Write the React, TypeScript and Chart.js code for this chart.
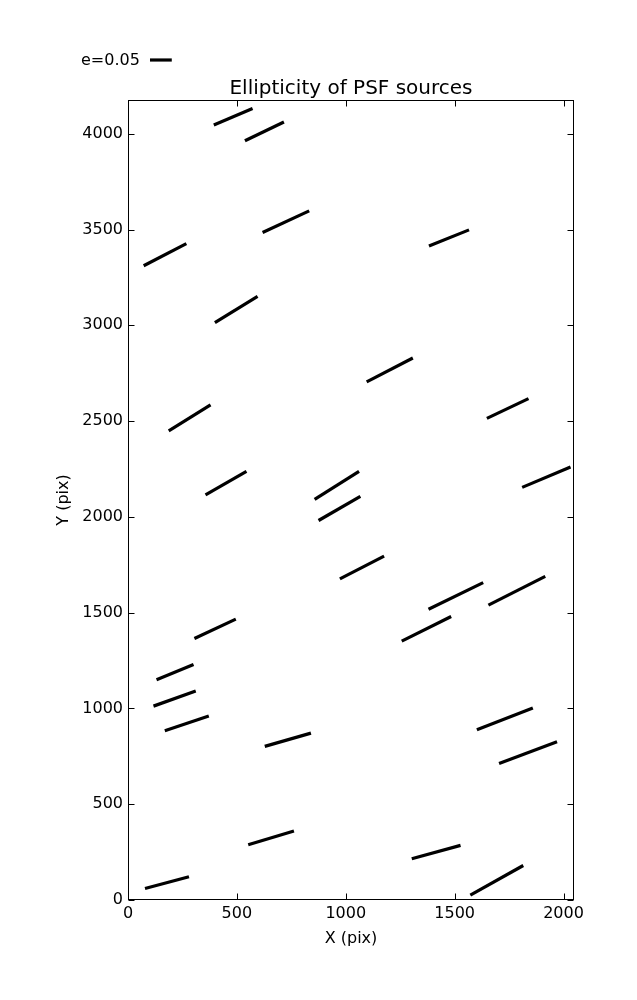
import React, { useEffect, useRef } from 'react';
import { Chart, registerables } from 'chart.js';

Chart.register(...registerables);

// Whisker start / end points (data units, pix)
const xStart = [394, 537, 618, 72, 399, 1382, 1096, 187, 356, 857, 875, 973, 305, 1648, 1810, 1380, 1655, 1257, 131, 117, 169, 628, 552, 78, 1602, 1704, 1303, 1572];
const yStart = [4046, 3963, 3484, 3311, 3014, 3414, 2705, 2449, 2115, 2091, 1981, 1676, 1365, 2514, 2154, 1518, 1539, 1351, 1150, 1012, 884, 802, 288, 60, 889, 712, 215, 25];
const xEnd = [572, 716, 832, 268, 595, 1566, 1308, 379, 544, 1061, 1067, 1176, 495, 1839, 2032, 1631, 1916, 1484, 301, 311, 371, 840, 762, 280, 1859, 1970, 1527, 1815];
const yEnd = [4132, 4061, 3597, 3426, 3151, 3498, 2829, 2584, 2237, 2237, 2107, 1795, 1466, 2617, 2260, 1657, 1689, 1480, 1229, 1091, 960, 871, 360, 121, 1002, 826, 285, 180];

const xTicks = [0, 500, 1000, 1500, 2000];
const yTicks = [0, 500, 1000, 1500, 2000, 2500, 3000, 3500, 4000];
const X_MAX = 2048;
const Y_MAX = 4176;

const legendE = 0.05;
const unitsPerE = 2000; // whisker length (pix) per unit ellipticity
const titleText = 'Ellipticity of PSF sources';
const legendLabel = 'e=0.05';

const FONT = '"DejaVu Sans", sans-serif';

const framePlugin = {
  id: 'frameAndText',
  afterDraw(chart: any) {
    const { ctx, chartArea, scales } = chart;
    const { left, right, top, bottom } = chartArea;
    const xs = scales.x;
    const ys = scales.y;
    ctx.save();
    ctx.strokeStyle = '#000';
    ctx.lineWidth = 1;
    const L = Math.round(left) + 0.5;
    const R = Math.round(right) - 0.5;
    const T = Math.round(top) + 0.5;
    const B = Math.round(bottom) - 0.5;
    ctx.strokeRect(L, T, R - L, B - T);
    const tl = 6;
    ctx.beginPath();
    xTicks.forEach((v) => {
      const px = Math.round(xs.getPixelForValue(v)) + 0.5;
      ctx.moveTo(px, B);
      ctx.lineTo(px, B - tl);
      ctx.moveTo(px, T);
      ctx.lineTo(px, T + tl);
    });
    yTicks.forEach((v) => {
      const py = Math.round(ys.getPixelForValue(v)) + 0.5;
      ctx.moveTo(L, py);
      ctx.lineTo(L + tl, py);
      ctx.moveTo(R, py);
      ctx.lineTo(R - tl, py);
    });
    ctx.stroke();

    // title
    ctx.fillStyle = '#000';
    ctx.font = `20px ${FONT}`;
    ctx.textAlign = 'center';
    ctx.textBaseline = 'middle';
    ctx.fillText(titleText, (left + right) / 2, 88.5);

    // legend
    ctx.font = `16px ${FONT}`;
    ctx.textAlign = 'left';
    ctx.fillText(legendLabel, 81, 61);
    const len = xs.getPixelForValue(legendE * unitsPerE) - xs.getPixelForValue(0);
    ctx.lineWidth = 3.2;
    ctx.lineCap = 'butt';
    ctx.beginPath();
    ctx.moveTo(150, 60);
    ctx.lineTo(150 + len, 60);
    ctx.stroke();
    ctx.restore();
  },
};

export default function App() {
  const ref = useRef<HTMLCanvasElement | null>(null);

  useEffect(() => {
    document.body.style.margin = '0';
    if (!ref.current) return;
    const datasets = xStart.map((x0, i) => ({
      label: `s${i}`,
      data: [
        { x: x0, y: yStart[i] },
        { x: xEnd[i], y: yEnd[i] },
      ],
      showLine: true,
      borderColor: '#000',
      backgroundColor: '#000',
      borderWidth: 3.2,
      borderCapStyle: 'butt' as const,
      pointRadius: 0,
      pointHoverRadius: 0,
    }));

    const chart = new Chart(ref.current, {
      type: 'scatter',
      data: { datasets },
      plugins: [framePlugin],
      options: {
        animation: false,
        responsive: true,
        maintainAspectRatio: false,
        devicePixelRatio: 1,
        layout: { padding: { left: 0, right: 63, top: 100, bottom: 0 } },
        plugins: {
          legend: { display: false },
          tooltip: { enabled: false },
          title: { display: false },
        },
        scales: {
          x: {
            type: 'linear',
            position: 'bottom',
            min: 0,
            max: X_MAX,
            afterBuildTicks: (s: any) => {
              s.ticks = xTicks.map((v) => ({ value: v }));
            },
            afterFit: (s: any) => {
              s.height = 100;
            },
            grid: { display: false, drawTicks: false },
            border: { display: false },
            ticks: {
              color: '#000',
              font: { family: FONT, size: 16 },
              padding: 4,
              maxRotation: 0,
              autoSkip: false,
              callback: (v: any) => String(v),
            },
            title: {
              display: true,
              text: 'X (pix)',
              color: '#000',
              font: { family: FONT, size: 16 },
              padding: { top: 0, bottom: 52 },
            },
          },
          y: {
            type: 'linear',
            position: 'left',
            min: 0,
            max: Y_MAX,
            afterBuildTicks: (s: any) => {
              s.ticks = yTicks.map((v) => ({ value: v }));
            },
            afterFit: (s: any) => {
              s.width = 128;
            },
            grid: { display: false, drawTicks: false },
            border: { display: false },
            ticks: {
              color: '#000',
              font: { family: FONT, size: 16 },
              padding: 5,
              autoSkip: false,
              callback: (v: any) => String(v),
            },
            title: {
              display: true,
              text: 'Y (pix)',
              color: '#000',
              font: { family: FONT, size: 16 },
              padding: { top: 54, bottom: 0 },
            },
          },
        },
      },
    });
    return () => chart.destroy();
  }, []);

  return (
    <div style={{ position: 'relative', width: 637, height: 1000 }}>
      <canvas ref={ref} />
    </div>
  );
}
